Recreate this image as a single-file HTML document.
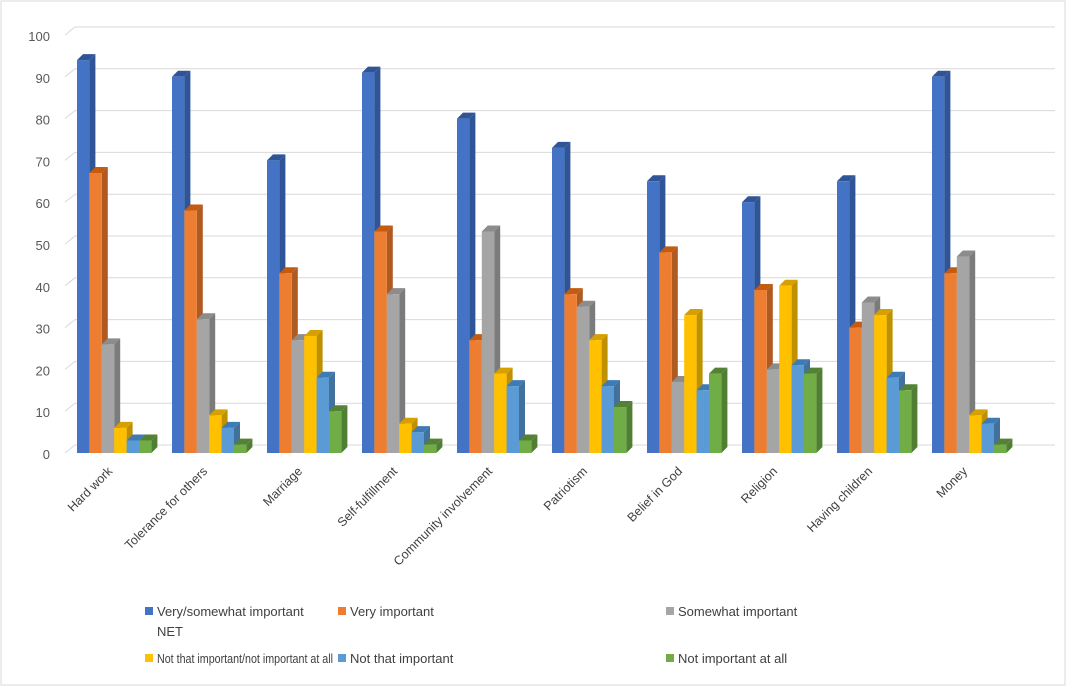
<!DOCTYPE html>
<html><head><meta charset="utf-8"><style>
body{margin:0;background:#fff;font-family:"Liberation Sans",sans-serif}
svg{display:block}
</style></head><body>
<svg id="c" width="1066" height="691">
<rect x="1" y="1" width="1064" height="684" fill="#fff" stroke="#d9d9d9"/>
<g id="grid"></g><g id="bars"></g><g id="labels"></g><g id="legend"></g>
</svg>
<script>
const categories=["Hard work","Tolerance for others","Marriage","Self-fulfillment","Community involvement","Patriotism","Belief in God","Religion","Having children","Money"];
const netImportant=[94,90,70,91,80,73,65,60,65,90];
const veryImportant=[67,58,43,53,27,38,48,39,30,43];
const somewhatImportant=[26,32,27,38,53,35,17,20,36,47];
const notThatOrNot=[6,9,28,7,19,27,33,40,33,9];
const notThat=[3,6,18,5,16,16,15,21,18,7];
const notAtAll=[3,2,10,2,3,11,19,19,15,2];
const yTicks=[0,10,20,30,40,50,60,70,80,90,100];
const seriesNames=["Very/somewhat important NET","Very important","Somewhat important","Not that important/not important at all","Not that important","Not important at all"];
const series=[netImportant,veryImportant,somewhatImportant,notThatOrNot,notThat,notAtAll];
const cols=["#4472c4","#ed7d31","#a5a5a5","#ffc000","#5b9bd5","#70ad47"];
const sides=["#2f5597","#ae5a21","#7b7b7b","#bf9000","#41719c","#507e32"];
const tops=["#2f5597","#c55a11","#8c8c8c","#d6a100","#3e7bb5","#548235"];
const NS="http://www.w3.org/2000/svg";
function el(t,a,p){const e=document.createElementNS(NS,t);for(const k in a)e.setAttribute(k,a[k]);p.appendChild(e);return e;}
const y0=453,unit=4.18,D=6;
const y=v=>y0-v*unit;
const gx0=77,gstep=95,bw=12.4;
const gx=i=>gx0+i*gstep;
const grid=document.getElementById('grid');
yTicks.forEach(t=>{
  const yy=y(t);
  const l=el('polyline',{points:`65,${yy} 75,${yy-8} 1055,${yy-8}`,fill:'none',stroke:'#d9d9d9','stroke-width':1},grid);
  
  
  const tx=el('text',{x:50,y:yy+6,'text-anchor':'end','font-size':13,fill:'#595959'},grid);
  tx.textContent=t;
  
  
});
const bars=document.getElementById('bars');
categories.forEach((c,i)=>{
  series.forEach((arr,s)=>{
    const x=gx(i)+s*bw,top=y(arr[i]);
    const g=el('g',{},bars);
    
    
    el('polygon',{points:`${x+bw},${top} ${x+bw+D},${top-D} ${x+bw+D},${y0-D} ${x+bw},${y0}`,fill:sides[s]},g);
    el('polygon',{points:`${x},${top} ${x+D},${top-D} ${x+bw+D},${top-D} ${x+bw},${top}`,fill:tops[s]},g);
    el('rect',{x:x,y:top,width:bw,height:y0-top,fill:cols[s]},g);
  });
});
const labels=document.getElementById('labels');
categories.forEach((c,i)=>{
  const cx=gx(i)+36,cy=472;
  const t=el('text',{x:cx,y:cy,'text-anchor':'end','font-size':12.5,fill:'#404040',transform:`rotate(-45 ${cx} ${cy})`},labels);
  t.textContent=c;
  
  
});
const legend=document.getElementById('legend');
const lpos=[[145,617],[338,617],[666,617],[145,664],[338,664],[666,664]];
seriesNames.forEach((n,s)=>{
  const g=el('g',{},legend);
  
  
  const [lx,ly]=lpos[s];
  el('rect',{x:lx,y:ly-10,width:8,height:8,fill:cols[s]},g);
  if(s===0){
    const t=el('text',{x:lx+12,y:ly-1,'font-size':13,fill:'#404040'},g);t.textContent="Very/somewhat important";
    const t2=el('text',{x:lx+12,y:ly+19,'font-size':13,fill:'#404040'},g);t2.textContent="NET";
  } else if(s===3){
    const t=el('text',{x:lx+12,y:ly-1,'font-size':13,fill:'#404040',textLength:176,lengthAdjust:'spacingAndGlyphs'},g);t.textContent=n;
  } else {
    const t=el('text',{x:lx+12,y:ly-1,'font-size':13,fill:'#404040'},g);t.textContent=n;
  }
});
</script>
</body></html>
